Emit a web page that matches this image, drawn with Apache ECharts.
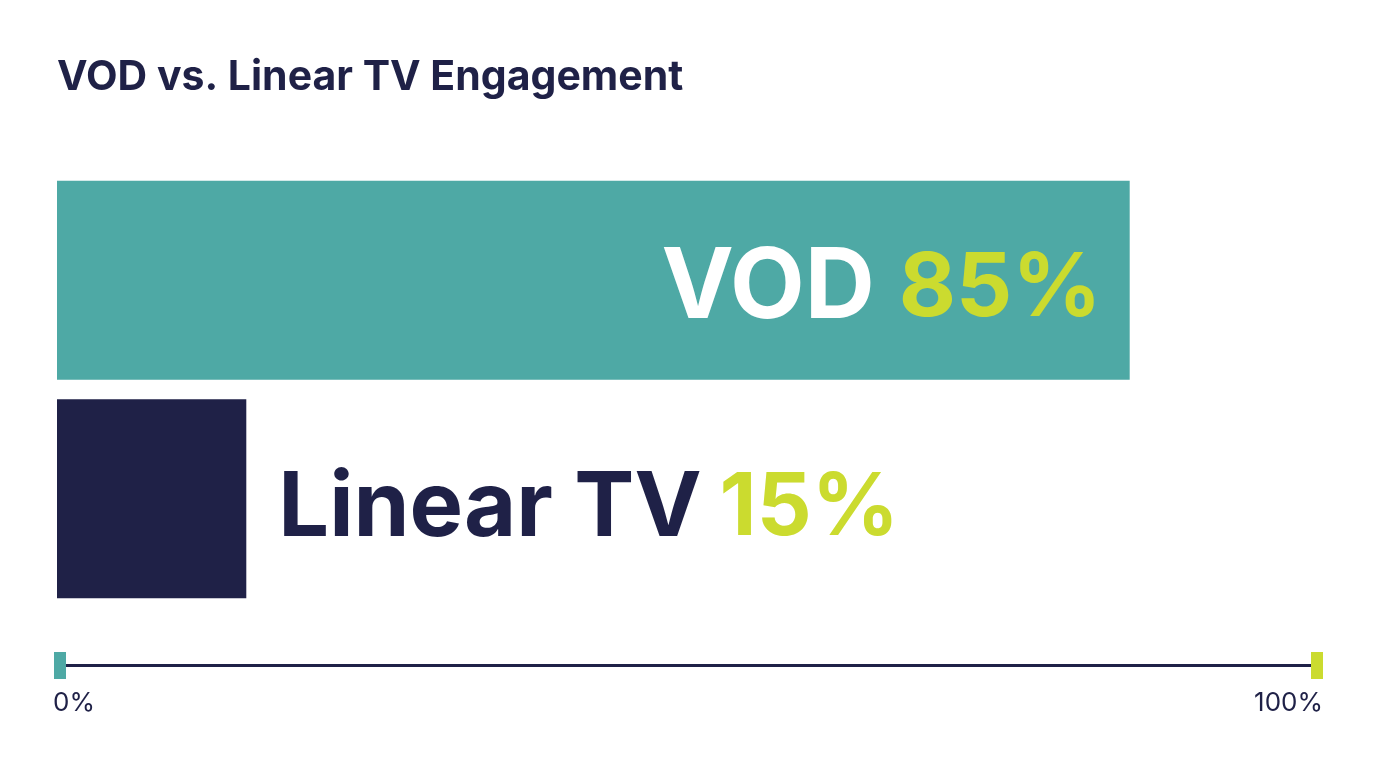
<!DOCTYPE html>
<html>
<head>
<meta charset="utf-8">
<title>VOD vs. Linear TV Engagement</title>
<style>
html, body { margin: 0; padding: 0; background: #fff; }
#chart { width: 1376px; height: 768px; }
</style>
<script src="https://cdn.jsdelivr.net/npm/echarts@6/dist/echarts.min.js"></script>
</head>
<body>
<div id="chart"></div>
<script>
var categories = ['VOD', 'Linear TV'];
var shares = [85, 15];
var scaleValues = [0, 100];
var scaleLabels = ['0%', '100%'];

var TEAL = '#4EA9A5', NAVY = '#1F2147', LIME = '#CBDB2F';
var FONT = 'Inter';

var chart = echarts.init(document.getElementById('chart'));

// big label inside/next to the bar, name and percent in different colours
function barLabel(nameColor, nameSize, pctSize, gap, position, distance, offsetY) {
    return {
        show: true,
        position: position,
        distance: distance,
        offset: [0, offsetY],
        formatter: function (p) {
            return '{name|' + p.name + '}{pct|' + p.value + '%}';
        },
        rich: {
            name: { color: nameColor, fontFamily: FONT, fontSize: nameSize, fontWeight: 700 },
            pct: { color: LIME, fontFamily: FONT, fontSize: pctSize, fontWeight: 700, padding: [0, 0, 0, gap] }
        }
    };
}

function scaleLabel(text, align, dx) {
    return {
        show: true,
        position: 'bottom',
        align: align,
        distance: 11,
        offset: [dx, 0],
        formatter: text,
        color: NAVY,
        fontFamily: FONT,
        fontSize: 26
    };
}

var option = {
    backgroundColor: '#ffffff',
    animation: false,
    title: {
        text: 'VOD vs. Linear TV Engagement',
        left: 57,
        top: 57,
        padding: 0,
        textStyle: { color: NAVY, fontFamily: FONT, fontSize: 41, fontWeight: 700 }
    },
    grid: [
        { left: 57, top: 171, width: 1262, height: 437 },
        { left: 60, top: 652, width: 1257, height: 27 }
    ],
    xAxis: [
        { gridIndex: 0, type: 'value', min: 0, max: 100, show: false },
        {
            gridIndex: 1, type: 'value', min: 0, max: 100, interval: 100,
            axisLine: { show: true, onZero: true, lineStyle: { color: NAVY, width: 3 } },
            axisTick: { show: false },
            axisLabel: { show: false },
            splitLine: { show: false }
        }
    ],
    yAxis: [
        { gridIndex: 0, type: 'category', data: categories, inverse: true, show: false },
        { gridIndex: 1, type: 'value', min: -1, max: 1, show: false }
    ],
    series: [
        {
            type: 'bar',
            xAxisIndex: 0,
            yAxisIndex: 0,
            barWidth: 199,
            data: [
                {
                    value: shares[0],
                    name: categories[0],
                    itemStyle: { color: TEAL },
                    label: barLabel('#ffffff', 97, 88, 24, 'insideRight', 28, 9)
                },
                {
                    value: shares[1],
                    name: categories[1],
                    itemStyle: { color: NAVY },
                    label: barLabel(NAVY, 90, 86, 18, 'right', 32, 10)
                }
            ]
        },
        {
            type: 'scatter',
            xAxisIndex: 1,
            yAxisIndex: 1,
            symbol: 'rect',
            symbolSize: [12, 27],
            z: 5,
            zlevel: 1,
            itemStyle: { opacity: 1 },
            data: [
                {
                    value: [scaleValues[0], 0],
                    itemStyle: { color: TEAL, opacity: 1 },
                    label: scaleLabel(scaleLabels[0], 'left', -7)
                },
                {
                    value: [scaleValues[1], 0],
                    itemStyle: { color: LIME, opacity: 1 },
                    label: scaleLabel(scaleLabels[1], 'right', 6)
                }
            ]
        }
    ]
};

chart.setOption(option);
window.addEventListener('resize', function () { chart.resize(); });
</script>
</body>
</html>
